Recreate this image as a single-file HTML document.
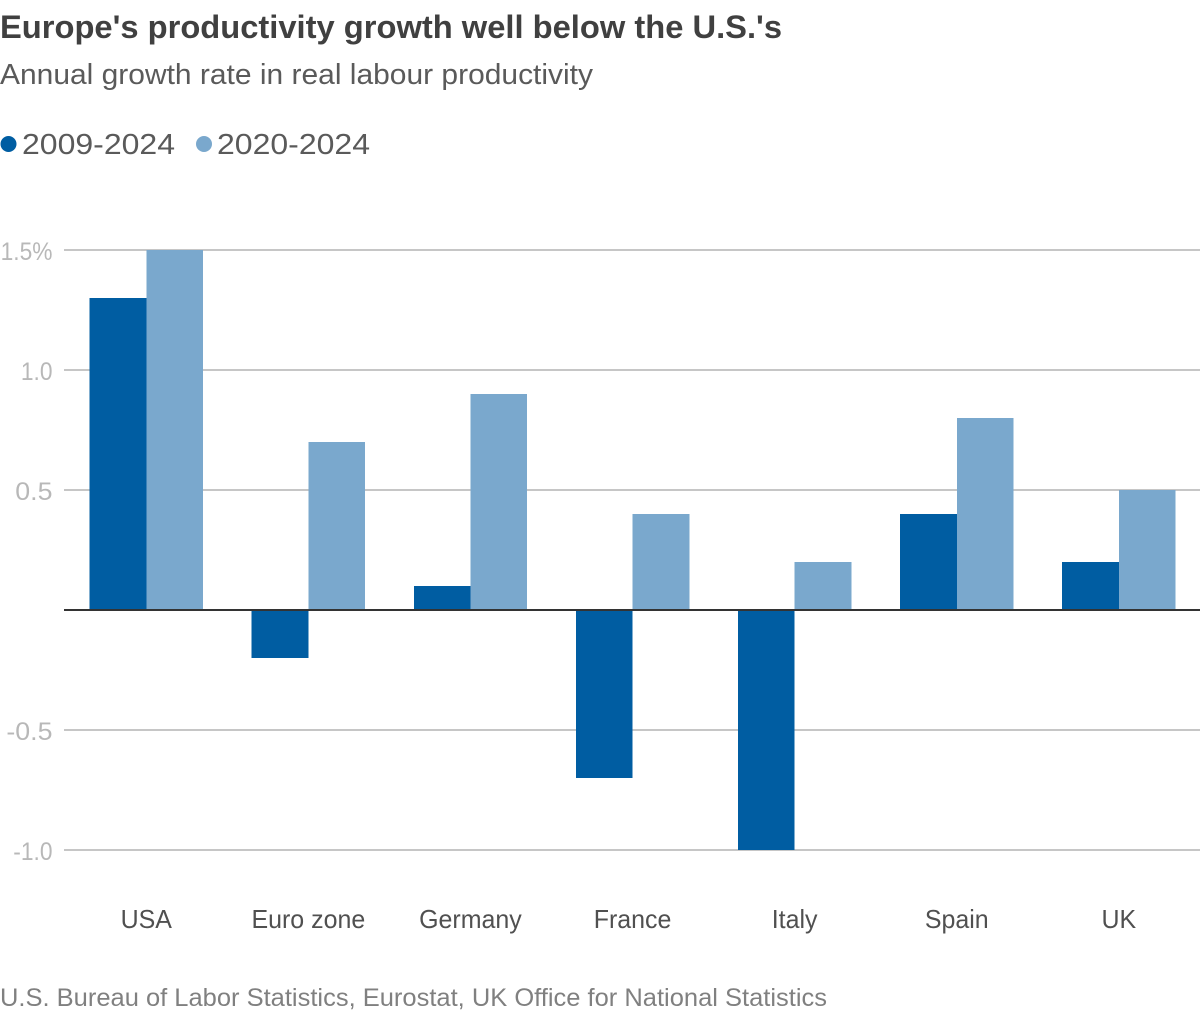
<!DOCTYPE html>
<html lang="en">
<head>
<meta charset="utf-8">
<title>Europe's productivity growth well below the U.S.'s</title>
<style>
html,body{margin:0;padding:0;background:#fff;}
body{width:1200px;height:1012px;overflow:hidden;position:relative;font-family:"Liberation Sans",sans-serif;}
svg{position:absolute;left:0;top:0;}
</style>
</head>
<body>
<svg id="chart" width="1200" height="1012" viewBox="0 0 1200 1012">
<text x="0" y="38" font-size="32" font-weight="700" fill="#404040" textLength="782" lengthAdjust="spacingAndGlyphs">Europe's productivity growth well below the U.S.'s</text>
<text x="0" y="84" font-size="29" fill="#5a5a5a" textLength="593" lengthAdjust="spacingAndGlyphs">Annual growth rate in real labour productivity</text>
<circle cx="8.500" cy="144" r="8" fill="#005da2"/>
<text x="22" y="154" font-size="29" fill="#5a5a5a" textLength="153" lengthAdjust="spacingAndGlyphs">2009-2024</text>
<circle cx="204" cy="144" r="8" fill="#7aa8cd"/>
<text x="217" y="154" font-size="29" fill="#5a5a5a" textLength="153" lengthAdjust="spacingAndGlyphs">2020-2024</text>
<g id="plot"></g>
<text x="0" y="1006" font-size="25" fill="#808080" textLength="827" lengthAdjust="spacingAndGlyphs">U.S. Bureau of Labor Statistics, Eurostat, UK Office for National Statistics</text>
</svg>
<script>
const categories = ["USA", "Euro zone", "Germany", "France", "Italy", "Spain", "UK"];
const series2009 = [1.3, -0.2, 0.1, -0.7, -1.0, 0.4, 0.2];
const series2020 = [1.5, 0.7, 0.9, 0.4, 0.2, 0.8, 0.5];
const tickValues = [1.5, 1.0, 0.5, -0.5, -1.0];
const tickLabels = ["1.5%", "1.0", "0.5", "-0.5", "-1.0"];

const NS = "http://www.w3.org/2000/svg";
const plot = document.getElementById("plot");
function y(v) { return 610 - v * 240; }
function x(i) { return 146.25 + i * 162.1; }
const barW = 56.7;

function make(tag, attrs, text) {
  const el = document.createElementNS(NS, tag);
  for (const k in attrs) el.setAttribute(k, attrs[k]);
  if (text !== undefined) el.textContent = text;
  plot.appendChild(el);
  return el;
}

function squeeze(el, ratio) {
  el.setAttribute("textLength", el.getComputedTextLength() * ratio);
  el.setAttribute("lengthAdjust", "spacingAndGlyphs");
}

tickValues.forEach(function (v, i) {
  const line = make("line", {x1: 64, x2: 1200, y1: y(v), y2: y(v), stroke: "#c6c6c6", "stroke-width": 2});
  
  
  const label = make("text", {x: 52.5, y: y(v) + 10, "text-anchor": "end", "font-size": 25, fill: "#b8b8b8"}, tickLabels[i]);
  
  
  squeeze(label, tickLabels[i].indexOf("1") >= 0 ? 0.91 : 1.07);
});

categories.forEach(function (c, i) {
  const a = series2009[i], b = series2020[i];
  const r1 = make("rect", {x: x(i) - barW, y: Math.min(y(a), y(0)), width: barW, height: Math.abs(y(a) - y(0)), fill: "#005da2", "shape-rendering": "crispEdges"});
  
  
  const r2 = make("rect", {x: x(i), y: Math.min(y(b), y(0)), width: barW, height: Math.abs(y(b) - y(0)), fill: "#7aa8cd", "shape-rendering": "crispEdges"});
  
  
  const t = make("text", {x: x(i), y: 928, "text-anchor": "middle", "font-size": 26, fill: "#505050"}, c);
  
  
  squeeze(t, 0.96);
});

const zero = make("line", {x1: 64, x2: 1200, y1: y(0), y2: y(0), stroke: "#333333", "stroke-width": 2});


</script>
</body>
</html>
